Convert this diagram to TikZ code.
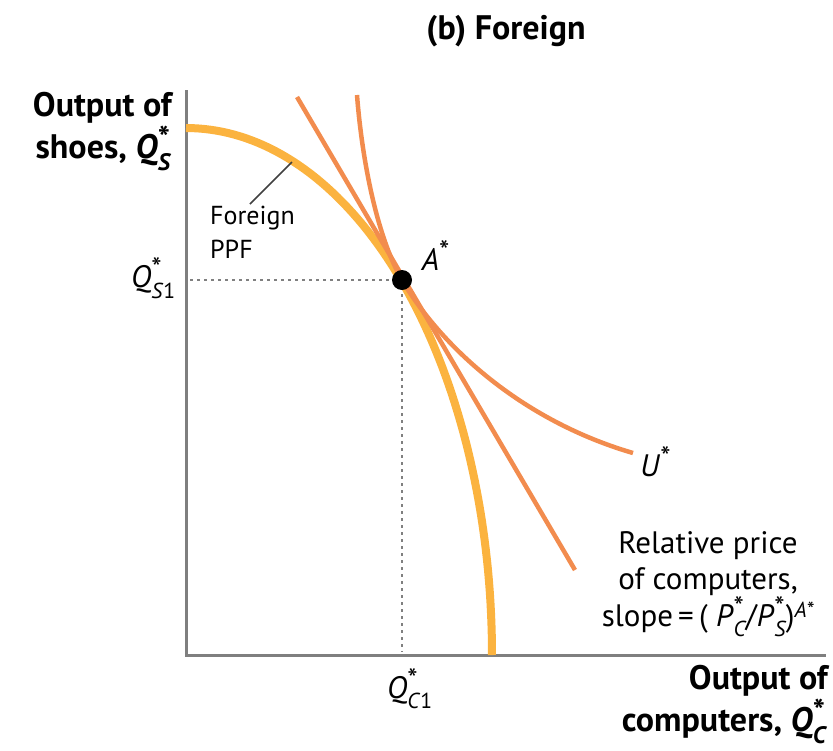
\documentclass[tikz,border=0pt]{standalone}
\usepackage{amsmath}
\usepackage{graphicx}
\usepackage{fontspec}
\setmainfont{PT Sans}
\definecolor{ppfcol}{HTML}{FBB33F}
\definecolor{curvecol}{HTML}{F28C4E}
\definecolor{axiscol}{HTML}{7F7F7F}
\newcommand\bigstar{\text{\scalebox{1.35}{*}}}
\newcommand\qstar[1]{\textit{Q}$^{\bigstar}_{\text{#1}}$}
\tikzset{
  axisline/.style={draw=axiscol, line width=3pt},
  ppfline/.style={draw=ppfcol, line width=8pt},
  econcurve/.style={draw=curvecol, line width=4.5pt},
  guide/.style={draw=gray, line width=1.6pt, dash pattern=on 3pt off 4pt},
  boldlab/.style={font=\bfseries\fontsize{34}{42}\selectfont, inner sep=0pt},
  plainlab/.style={font=\fontsize{31}{36}\selectfont, inner sep=0pt},
  ppftext/.style={font=\fontsize{26}{34}\selectfont, inner sep=0pt},
}
\begin{document}
\begin{tikzpicture}[x=1pt,y=-1pt]
\useasboundingbox (0,0) rectangle (833,750);

% title
\node[boldlab] (title) at (506,31) {(b) Foreign};

% axes
\coordinate (ytop) at (186,90);
\coordinate (origin) at (186,655);
\coordinate (xend) at (826,655);
\draw[axisline] (ytop) -- (origin) -- (xend);

% production possibilities frontier
\draw[ppfline] plot[domain=90:0, samples=80] ({186+306*cos(\x)},{655-527*sin(\x)});

% equilibrium point and guides
\coordinate (A) at (402,280);
\coordinate (Ay) at (190,280);
\coordinate (Ax) at (402,652);
\draw[guide] (Ay) -- (A);
\draw[guide] (A) -- (Ax);

% relative price line
\coordinate (p1) at (297,97);
\coordinate (p2) at (575,570);
\draw[econcurve] (p1) -- (p2);

% indifference curve
\coordinate (u1) at (357,95);
\coordinate (u2) at (633,453);
\draw[econcurve] (u1) .. controls (362,160) and (377,237) .. (A)
  .. controls (440,345) and (520,420) .. (u2);

\node[circle, fill=black, minimum size=20pt, inner sep=0pt] (Adot) at (A) {};

% PPF leader
\coordinate (ppfpt) at (292,162);
\coordinate (ppfend) at (250,204);
\draw[black!75, line width=1.5pt] (ppfpt) -- (ppfend);
\node[ppftext, align=left, anchor=north west] (ppflab) at (210,206) {Foreign\\PPF};

% labels
\node[boldlab, align=right, anchor=north east] (ylab) at (172,92) {Output of\\shoes, \qstar{\textit{S}}};
\node[boldlab, align=right, anchor=south east] (xlab) at (828,744) {Output of\\computers, \qstar{\textit{C}}};
\node[plainlab, anchor=east] (qs1) at (176,278) {\qstar{\textit{S}1}};
\node[plainlab, anchor=north] (qc1) at (410,668) {\qstar{\textit{C}1}};
\node[plainlab] (alab) at (436,256) {\textit{A}$^{\bigstar}$};
\node[plainlab, anchor=west] (ulab) at (640,462) {\textit{U}$^{\bigstar}$};
\node[plainlab, align=center] (pricelab) at (708,584)
  {Relative price\\of computers,\\slope\,=\,( \textit{P}$^{\bigstar}_{\text{\itshape C}}$/\textit{P}$^{\bigstar}_{\text{\itshape S}}$)$^{\text{\itshape A*}}$};
\end{tikzpicture}
\end{document}
